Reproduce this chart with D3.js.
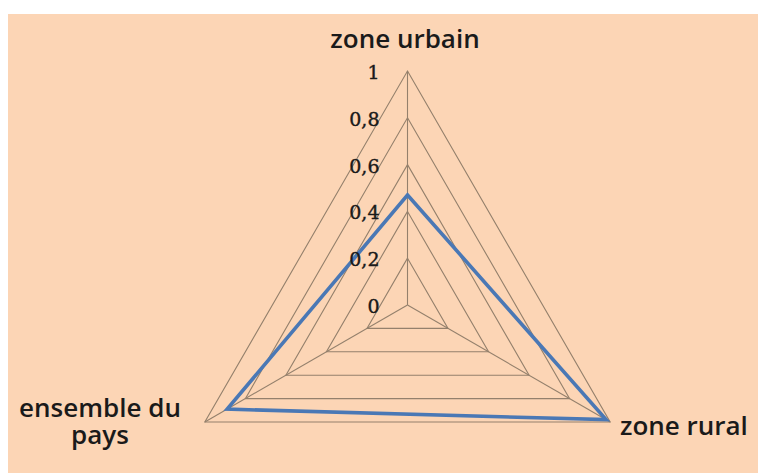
<!DOCTYPE html>
<html>
<head>
<meta charset="utf-8">
<script src="https://cdn.jsdelivr.net/npm/d3@7"></script>
<style>
  html, body { margin: 0; padding: 0; background: #fff; }
  svg { display: block; }
  .axis-label { font-family: 'Open Sans', sans-serif; font-weight: 600; font-size: 26px; fill: #1a1a1a; }
  .tick-label { font-family: 'DejaVu Serif', serif; font-size: 19px; fill: #1a1a1a; stroke: #1a1a1a; stroke-width: 0.4; }
</style>
</head>
<body>
<div id="chart"></div>
<script>
// categories and values
var categories = ['zone urbain', 'zone rural', 'ensemble du pays'];
var values = [0.47, 0.98, 0.89];
var ticks = [0, 0.2, 0.4, 0.6, 0.8, 1];
var tickLabels = ['0', '0,2', '0,4', '0,6', '0,8', '1'];

var width = 758, height = 473;
var cx = 407.5, cy = 305, radius = 234;

var svg = d3.select('#chart').append('svg')
  .attr('width', width)
  .attr('height', height);

// peach plot area
svg.append('rect')
  .attr('x', 8).attr('y', 14)
  .attr('width', width - 8).attr('height', height - 14)
  .attr('fill', '#fcd5b5');

var r = d3.scaleLinear().domain([0, 1]).range([0, radius]);
var angle = d3.scaleLinear().domain([0, categories.length]).range([0, 2 * Math.PI]);

var g = svg.append('g')
  .attr('transform', 'translate(' + cx + ',' + cy + ')');

var line = d3.lineRadial()
  .angle(function(d, i) { return angle(i); })
  .radius(function(d) { return r(d); })
  .curve(d3.curveLinearClosed);

// grid rings
g.selectAll('path.ring')
  .data(ticks.filter(function(t) { return t > 0; }))
  .enter().append('path')
  .attr('class', 'ring')
  .attr('d', function(t) { return line(categories.map(function() { return t; })); })
  .attr('fill', 'none')
  .attr('stroke', '#94806c')
  .attr('stroke-width', 1.1);

// spokes
g.selectAll('line.spoke')
  .data(categories)
  .enter().append('line')
  .attr('class', 'spoke')
  .attr('x1', 0).attr('y1', 0)
  .attr('x2', function(d, i) { return r(1) * Math.sin(angle(i)); })
  .attr('y2', function(d, i) { return -r(1) * Math.cos(angle(i)); })
  .attr('stroke', '#94806c')
  .attr('stroke-width', 1.1);

// series
g.append('path')
  .attr('d', line(values))
  .attr('fill', 'none')
  .attr('stroke', '#4a78b5')
  .attr('stroke-width', 3.6)
  .attr('stroke-linejoin', 'miter');

// tick labels along the top axis
g.selectAll('text.tick-label')
  .data(ticks)
  .enter().append('text')
  .attr('class', 'tick-label')
  .attr('x', -28)
  .attr('y', function(t) { return -r(t) + 1; })
  .attr('text-anchor', 'end')
  .attr('dominant-baseline', 'central')
  .text(function(t, i) { return tickLabels[i]; });

// category labels
svg.append('text')
  .attr('class', 'axis-label')
  .attr('x', 405).attr('y', 48)
  .attr('text-anchor', 'middle')
  .text(categories[0]);

svg.append('text')
  .attr('class', 'axis-label')
  .attr('x', 620).attr('y', 435)
  .text(categories[1]);

var ens = svg.append('text')
  .attr('class', 'axis-label')
  .attr('text-anchor', 'middle');
ens.append('tspan').attr('x', 100).attr('y', 417).text('ensemble du');
ens.append('tspan').attr('x', 100).attr('y', 444).text('pays');
</script>
</body>
</html>
